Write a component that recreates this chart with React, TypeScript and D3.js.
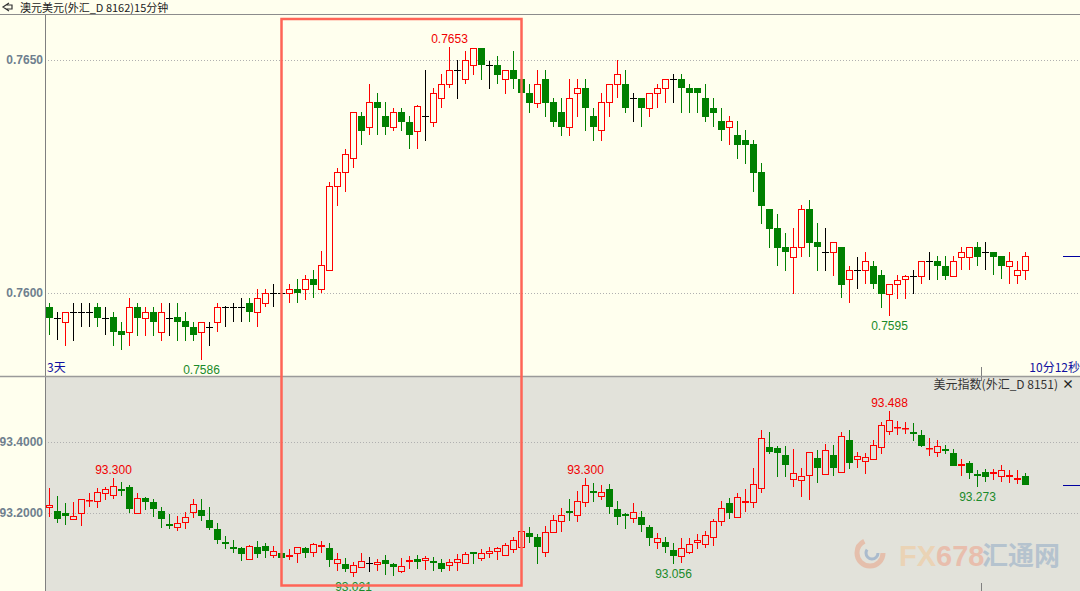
import * as d3 from 'd3';

// AUD/USD 15 min candles: [open, high, low, close]
const audUsd: number[][] = [
  [0.75971, 0.75979, 0.7591, 0.75947], [0.75947, 0.7596, 0.75899, 0.75947], [0.75938, 0.75959, 0.75886, 0.75959],
  [0.75959, 0.75979, 0.75898, 0.75959], [0.75959, 0.75978, 0.75928, 0.75959], [0.75959, 0.75978, 0.75928, 0.75959],
  [0.7597, 0.75978, 0.75928, 0.75947], [0.75947, 0.75969, 0.75909, 0.75947], [0.75949, 0.75959, 0.75886, 0.75917],
  [0.75918, 0.75938, 0.75878, 0.75909], [0.75917, 0.75989, 0.75886, 0.75969], [0.75969, 0.75978, 0.75908, 0.75947],
  [0.75947, 0.75969, 0.75908, 0.75959], [0.75959, 0.75969, 0.75908, 0.75938], [0.75917, 0.75978, 0.75898, 0.75959],
  [0.75947, 0.75978, 0.75908, 0.75947], [0.75949, 0.75978, 0.75898, 0.75938], [0.7594, 0.75959, 0.75898, 0.75928],
  [0.75928, 0.75938, 0.75898, 0.75909], [0.75917, 0.75938, 0.75856, 0.75938], [0.75928, 0.75938, 0.75886, 0.75928],
  [0.75938, 0.75978, 0.75917, 0.75969], [0.75969, 0.75972, 0.75928, 0.75969], [0.75969, 0.75979, 0.75938, 0.75969],
  [0.75969, 0.75989, 0.75938, 0.75969], [0.75978, 0.75989, 0.75938, 0.75959], [0.75959, 0.76009, 0.75928, 0.75989],
  [0.75978, 0.76009, 0.75969, 0.75999], [0.75999, 0.76019, 0.75969, 0.75999], [0.75999, 0.76015, 0.75985, 0.75999],
  [0.75999, 0.76019, 0.75978, 0.76008], [0.76008, 0.76029, 0.75978, 0.75999], [0.76008, 0.76039, 0.75985, 0.76029],
  [0.76029, 0.76049, 0.75989, 0.76017], [0.76008, 0.7609, 0.75999, 0.7606], [0.76049, 0.76238, 0.76049, 0.7623],
  [0.7623, 0.76268, 0.76187, 0.76259], [0.76259, 0.76308, 0.76217, 0.76298], [0.76289, 0.76388, 0.76268, 0.76388],
  [0.76379, 0.76388, 0.76318, 0.76348], [0.76357, 0.76449, 0.76338, 0.76409], [0.76409, 0.76429, 0.76338, 0.76398],
  [0.76379, 0.76409, 0.76338, 0.76357], [0.76357, 0.76398, 0.76348, 0.76388], [0.76388, 0.76398, 0.76348, 0.76368],
  [0.76368, 0.76379, 0.76308, 0.76338], [0.76348, 0.76403, 0.76308, 0.76401], [0.76379, 0.76479, 0.76327, 0.76379],
  [0.76368, 0.76439, 0.76357, 0.76429], [0.76418, 0.76469, 0.76398, 0.76448], [0.76448, 0.76527, 0.76439, 0.76479],
  [0.76479, 0.765, 0.76416, 0.76479], [0.76459, 0.76519, 0.76448, 0.76499], [0.76489, 0.76526, 0.76468, 0.76526],
  [0.76526, 0.76526, 0.76457, 0.76489], [0.76489, 0.76498, 0.76438, 0.76489], [0.76489, 0.76509, 0.76448, 0.76468],
  [0.76459, 0.76478, 0.76427, 0.76478], [0.76478, 0.76519, 0.76438, 0.76459], [0.76459, 0.7647, 0.76416, 0.76429],
  [0.76429, 0.76449, 0.76387, 0.76408], [0.76408, 0.76479, 0.76398, 0.76448], [0.76459, 0.76479, 0.76378, 0.76408],
  [0.76409, 0.76418, 0.76357, 0.76368], [0.76388, 0.76418, 0.76337, 0.76357], [0.76357, 0.76459, 0.76337, 0.76418],
  [0.76429, 0.76459, 0.76378, 0.76439], [0.76439, 0.76459, 0.76348, 0.76398], [0.7638, 0.76398, 0.76327, 0.76357],
  [0.76349, 0.7643, 0.76327, 0.76409], [0.76409, 0.76448, 0.76378, 0.76448], [0.76448, 0.765, 0.76418, 0.76469],
  [0.76448, 0.76479, 0.76387, 0.76398], [0.76418, 0.76429, 0.76368, 0.76418], [0.76418, 0.76418, 0.76357, 0.76398],
  [0.76398, 0.76429, 0.76378, 0.76429], [0.76429, 0.76449, 0.76398, 0.76439], [0.76439, 0.76459, 0.76408, 0.76459],
  [0.76459, 0.76469, 0.76408, 0.76459], [0.76459, 0.76469, 0.76387, 0.76439], [0.76439, 0.76449, 0.76387, 0.76429],
  [0.76439, 0.76439, 0.76387, 0.76429], [0.76418, 0.76449, 0.76368, 0.76378], [0.76398, 0.76418, 0.76357, 0.76387],
  [0.76369, 0.76398, 0.76327, 0.76349], [0.76357, 0.7638, 0.76318, 0.76369], [0.76339, 0.76369, 0.76288, 0.76318],
  [0.76328, 0.76349, 0.76277, 0.76318], [0.7632, 0.76328, 0.76217, 0.76258], [0.7626, 0.76278, 0.76148, 0.76187],
  [0.7618, 0.7618, 0.76097, 0.76137], [0.76139, 0.7617, 0.76058, 0.76097], [0.76099, 0.76129, 0.76048, 0.76088],
  [0.76078, 0.76139, 0.75998, 0.76098], [0.76098, 0.76189, 0.76078, 0.7618], [0.7618, 0.762, 0.76078, 0.76108],
  [0.76109, 0.7615, 0.76048, 0.76098], [0.76089, 0.76139, 0.76048, 0.76089], [0.76089, 0.76109, 0.76037, 0.76109],
  [0.76098, 0.76098, 0.75989, 0.76017], [0.76029, 0.76059, 0.75978, 0.76049], [0.76049, 0.76078, 0.76008, 0.76049],
  [0.76049, 0.76089, 0.76019, 0.76069], [0.76059, 0.76069, 0.76008, 0.76019], [0.76039, 0.76049, 0.75968, 0.75998],
  [0.75998, 0.76019, 0.75951, 0.76019], [0.76019, 0.76039, 0.75988, 0.76028], [0.76029, 0.76039, 0.75988, 0.76037],
  [0.76037, 0.76049, 0.75998, 0.76037], [0.76037, 0.76069, 0.76019, 0.76069], [0.76069, 0.76089, 0.76028, 0.76069],
  [0.76069, 0.76079, 0.76028, 0.76059], [0.76059, 0.76079, 0.76028, 0.76037], [0.76037, 0.76079, 0.76037, 0.76069],
  [0.76078, 0.76099, 0.76049, 0.76089], [0.76078, 0.76098, 0.76049, 0.76098], [0.76098, 0.76109, 0.76059, 0.76078],
  [0.76089, 0.76109, 0.76049, 0.76089], [0.76089, 0.76089, 0.76039, 0.76078], [0.76079, 0.76079, 0.76029, 0.76059],
  [0.76059, 0.76089, 0.76019, 0.76069], [0.76039, 0.76069, 0.76019, 0.76049], [0.76049, 0.76089, 0.76028, 0.76079],
];

// US dollar index candles: [open, high, low, close]
const usdIndex: number[][] = [
  [93.216, 93.271, 93.19, 93.223], [93.206, 93.248, 93.173, 93.182], [93.199, 93.227, 93.166, 93.192],
  [93.182, 93.232, 93.182, 93.192], [93.201, 93.239, 93.163, 93.239], [93.236, 93.256, 93.218, 93.238],
  [93.234, 93.27, 93.213, 93.258], [93.256, 93.272, 93.237, 93.267], [93.25, 93.3, 93.239, 93.276],
  [93.268, 93.286, 93.248, 93.264], [93.273, 93.279, 93.201, 93.21], [93.201, 93.256, 93.201, 93.241],
  [93.242, 93.244, 93.208, 93.232], [93.23, 93.239, 93.19, 93.212], [93.206, 93.216, 93.159, 93.182],
  [93.169, 93.197, 93.154, 93.164], [93.161, 93.192, 93.15, 93.173], [93.174, 93.204, 93.154, 93.188],
  [93.202, 93.239, 93.185, 93.225], [93.208, 93.24, 93.178, 93.192], [93.18, 93.218, 93.152, 93.159],
  [93.155, 93.171, 93.112, 93.125], [93.118, 93.135, 93.098, 93.115], [93.104, 93.124, 93.086, 93.101],
  [93.101, 93.105, 93.065, 93.085], [93.07, 93.11, 93.068, 93.107], [93.104, 93.121, 93.074, 93.085],
  [93.107, 93.115, 93.072, 93.094], [93.081, 93.107, 93.074, 93.092], [93.086, 93.086, 93.072, 93.072],
  [93.078, 93.098, 93.068, 93.081], [93.086, 93.103, 93.06, 93.103], [93.101, 93.105, 93.072, 93.086],
  [93.089, 93.116, 93.077, 93.112], [93.106, 93.121, 93.086, 93.109], [93.101, 93.115, 93.047, 93.068],
  [93.058, 93.086, 93.037, 93.07], [93.055, 93.072, 93.033, 93.043], [93.033, 93.063, 93.021, 93.053],
  [93.049, 93.086, 93.044, 93.064], [93.06, 93.077, 93.035, 93.06], [93.055, 93.07, 93.037, 93.061],
  [93.068, 93.082, 93.025, 93.056], [93.056, 93.06, 93.022, 93.049], [93.037, 93.072, 93.032, 93.051],
  [93.064, 93.079, 93.043, 93.067], [93.07, 93.082, 93.043, 93.063], [93.067, 93.079, 93.039, 93.073],
  [93.064, 93.077, 93.037, 93.062], [93.058, 93.07, 93.035, 93.043], [93.054, 93.07, 93.037, 93.061],
  [93.063, 93.084, 93.037, 93.07], [93.058, 93.091, 93.058, 93.084], [93.089, 93.089, 93.056, 93.087],
  [93.072, 93.098, 93.066, 93.086], [93.086, 93.103, 93.074, 93.092], [93.094, 93.105, 93.068, 93.101],
  [93.081, 93.115, 93.081, 93.109], [93.098, 93.132, 93.088, 93.124], [93.105, 93.148, 93.105, 93.148],
  [93.143, 93.16, 93.115, 93.132], [93.132, 93.141, 93.056, 93.105], [93.091, 93.163, 93.077, 93.146],
  [93.146, 93.194, 93.146, 93.179], [93.177, 93.213, 93.146, 93.194], [93.205, 93.239, 93.178, 93.199],
  [93.194, 93.262, 93.175, 93.233], [93.23, 93.3, 93.218, 93.278], [93.261, 93.284, 93.23, 93.256],
  [93.247, 93.278, 93.236, 93.258], [93.267, 93.282, 93.197, 93.216], [93.21, 93.234, 93.166, 93.19],
  [93.196, 93.199, 93.154, 93.194], [93.185, 93.227, 93.171, 93.202], [93.188, 93.205, 93.147, 93.165],
  [93.16, 93.166, 93.108, 93.129], [93.117, 93.143, 93.098, 93.129], [93.117, 93.133, 93.086, 93.103],
  [93.095, 93.115, 93.056, 93.078], [93.078, 93.13, 93.058, 93.101], [93.089, 93.129, 93.084, 93.112],
  [93.117, 93.14, 93.098, 93.123], [93.112, 93.148, 93.101, 93.137], [93.132, 93.182, 93.108, 93.177],
  [93.177, 93.234, 93.163, 93.213], [93.227, 93.241, 93.183, 93.201], [93.188, 93.256, 93.188, 93.244],
  [93.231, 93.267, 93.204, 93.233], [93.23, 93.326, 93.213, 93.281], [93.27, 93.434, 93.257, 93.41],
  [93.387, 93.429, 93.366, 93.373], [93.383, 93.389, 93.301, 93.368], [93.363, 93.389, 93.301, 93.336],
  [93.295, 93.38, 93.274, 93.312], [93.292, 93.326, 93.244, 93.304], [93.306, 93.371, 93.237, 93.371],
  [93.354, 93.377, 93.284, 93.328], [93.309, 93.394, 93.309, 93.377], [93.363, 93.392, 93.304, 93.328],
  [93.315, 93.429, 93.315, 93.416], [93.405, 93.434, 93.325, 93.342], [93.351, 93.373, 93.326, 93.36],
  [93.346, 93.368, 93.309, 93.357], [93.351, 93.406, 93.351, 93.391], [93.385, 93.457, 93.365, 93.448],
  [93.431, 93.488, 93.419, 93.461], [93.441, 93.46, 93.419, 93.443], [93.439, 93.455, 93.423, 93.44],
  [93.428, 93.454, 93.404, 93.426], [93.419, 93.434, 93.385, 93.389], [93.382, 93.41, 93.361, 93.384],
  [93.371, 93.406, 93.359, 93.388], [93.379, 93.391, 93.365, 93.377], [93.368, 93.379, 93.333, 93.333],
  [93.335, 93.351, 93.305, 93.337], [93.34, 93.347, 93.297, 93.312], [93.309, 93.321, 93.273, 93.307],
  [93.315, 93.325, 93.286, 93.301], [93.313, 93.323, 93.293, 93.316], [93.304, 93.335, 93.288, 93.321],
  [93.305, 93.321, 93.284, 93.307], [93.296, 93.321, 93.281, 93.298], [93.304, 93.312, 93.278, 93.278],
];

const audTicks = [0.765, 0.76];
const usdTicks = [93.4, 93.2];

// high / low markers written on the chart
const audMarks = [{ i: 50, kind: 'high' }, { i: 19, kind: 'low' }, { i: 105, kind: 'low' }];
const usdMarks = [
  { i: 8, kind: 'high' }, { i: 67, kind: 'high' }, { i: 105, kind: 'high' },
  { i: 38, kind: 'low' }, { i: 78, kind: 'low' }, { i: 116, kind: 'low' },
];

const highlight = [29, 59]; // candles inside the red box

const W = 1080;
const H = 591;
const AXIS_X = 45;
const UP = '#ff0000';
const DOWN = '#008000';
const TOP_BG = '#ffffee';
const BOT_BG = '#e2e2da';

const idx = d3.range(audUsd.length);
const xBand = d3.scaleBand<number>().domain(idx).range([45.5, 45.5 + 8 * idx.length]);
const cx = (i: number) => (xBand(i) as number) + 4;

const yTop = d3.scaleLinear().domain([0.76, 0.765]).range([293, 60]);
const yBot = d3.scaleLinear().domain([93.2, 93.4]).range([513, 442]);

const crisp = (v: number) => Math.round(v) + 0.5;

function Candles({ data, y, bg }: { data: number[][]; y: d3.ScaleLinear<number, number>; bg: string }) {
  return (
    <g>
      {data.map(([o, h, l, c], i) => {
        const x = cx(i);
        const color = c > o ? UP : c < o ? DOWN : '#000';
        const yo = Math.round(y(o));
        const yc = Math.round(y(c));
        return (
          <g key={i}>
            <line x1={x} x2={x} y1={Math.round(y(h))} y2={Math.round(y(l))} stroke={color} strokeWidth={1} />
            {c > o && (
              <rect x={x - 3} y={yc + 0.5} width={6} height={Math.max(yo - yc, 0.5)} fill={bg} stroke={UP} strokeWidth={1} />
            )}
            {c < o && <rect x={x - 3.5} y={yo} width={7} height={Math.max(yc - yo, 2)} fill={DOWN} />}
            {c === o && <line x1={x - 3.5} x2={x + 3.5} y1={yo + 0.5} y2={yo + 0.5} stroke="#000" strokeWidth={1} />}
          </g>
        );
      })}
    </g>
  );
}

function Marks({ data, y, marks, digits }: { data: number[][]; y: d3.ScaleLinear<number, number>; marks: { i: number; kind: string }[]; digits: number }) {
  return (
    <g fontFamily="'Liberation Sans', Arial, sans-serif" fontSize={12} textAnchor="middle">
      {marks.map((m, k) => {
        const v = m.kind === 'high' ? data[m.i][1] : data[m.i][2];
        const yy = m.kind === 'high' ? y(v) - 4 : y(v) + 14;
        return (
          <text key={k} x={cx(m.i)} y={yy} fill={m.kind === 'high' ? '#f00000' : '#1a8a2a'}>
            {v.toFixed(digits)}
          </text>
        );
      })}
    </g>
  );
}

export default function App() {
  const lastAud = audUsd[audUsd.length - 1][3];
  const lastUsd = usdIndex[usdIndex.length - 1][3];
  const boxX1 = cx(highlight[0]);
  const boxX2 = cx(highlight[1]);

  return (
    <div style={{ position: 'fixed', left: 0, top: 0 }}>
      <svg width={W} height={H} style={{ display: 'block' }}>
        {/* backgrounds */}
        <rect x={0} y={0} width={W} height={H} fill={TOP_BG} />
        <rect x={AXIS_X} y={377} width={W - AXIS_X} height={H - 377} fill={BOT_BG} />

        {/* title */}
        <path d="M9,3 L3,7 L9,11 M6,5 L12,5 L12,9 L6,9" fill="none" stroke="#333" strokeWidth={1.2} />
        <text x={20} y={11.5} fontFamily="'Noto Sans CJK SC', sans-serif" fontSize={11} fill="#222">
          澳元美元(外汇_D 8162)15分钟
        </text>
        <line x1={0} x2={W} y1={14.5} y2={14.5} stroke="#8c8c8c" />

        {/* grid + axis labels */}
        <g fontFamily="'Liberation Sans', Arial, sans-serif" fontSize={12} fontWeight="bold" fill="#6f7f8e" textAnchor="end">
          {audTicks.map((t) => (
            <g key={t}>
              <line x1={AXIS_X} x2={W} y1={crisp(yTop(t))} y2={crisp(yTop(t))} stroke="#b0b0b0" strokeDasharray="1,2" />
              <text x={43} y={yTop(t) + 4}>{t.toFixed(4)}</text>
            </g>
          ))}
          {usdTicks.map((t) => (
            <g key={t}>
              <line x1={AXIS_X} x2={W} y1={crisp(yBot(t))} y2={crisp(yBot(t))} stroke="#b0b0b0" strokeDasharray="1,2" />
              <text x={43} y={yBot(t) + 4}>{t.toFixed(4)}</text>
            </g>
          ))}
        </g>

        <Candles data={audUsd} y={yTop} bg={TOP_BG} />
        <Candles data={usdIndex} y={yBot} bg={BOT_BG} />
        <Marks data={audUsd} y={yTop} marks={audMarks} digits={4} />
        <Marks data={usdIndex} y={yBot} marks={usdMarks} digits={3} />

        {/* last price markers */}
        <line x1={1063} x2={W} y1={crisp(yTop(lastAud))} y2={crisp(yTop(lastAud))} stroke="#0000a0" />
        <line x1={1063} x2={W} y1={crisp(yBot(lastUsd))} y2={crisp(yBot(lastUsd))} stroke="#0000a0" />

        {/* panel frame */}
        <line x1={AXIS_X + 0.5} x2={AXIS_X + 0.5} y1={15} y2={H} stroke="#808080" />
        <line x1={0} x2={W} y1={376.5} y2={376.5} stroke="#9a9a9a" strokeWidth={1.5} />
        <line x1={981.5} x2={981.5} y1={367} y2={376} stroke="#808080" />
        <line x1={981.5} x2={981.5} y1={377} y2={381} stroke="#808080" />
        <line x1={981.5} x2={981.5} y1={583} y2={H} stroke="#808080" />

        <g fontFamily="'Noto Sans CJK SC', sans-serif" fontSize={12}>
          <text x={47} y={372} fill="#1010a0">3天</text>
          <text x={W} y={372} fill="#1010a0" textAnchor="end">10分12秒</text>
          <text x={1058} y={389} fill="#333" textAnchor="end">美元指数(外汇_D 8151)</text>
          <text x={1068} y={389} fill="#222" fontWeight="bold" textAnchor="middle">×</text>
        </g>

        {/* watermark */}
        <g opacity={0.55}>
          <circle cx={870} cy={553} r={13} fill="none" stroke="#e8a487" strokeWidth={5} strokeDasharray="55,27" />
          <circle cx={872} cy={553} r={6} fill="none" stroke="#7d9cc4" strokeWidth={3} strokeDasharray="22,16" />
          <text x={899} y={566} fontFamily="'Liberation Sans', Arial, sans-serif" fontWeight="bold" fontSize={29}>
            <tspan fill="#f2c797">FX</tspan>
            <tspan fill="#eea28a">678</tspan>
          </text>
          <text x={982} y={565} fontFamily="'Noto Sans CJK SC', sans-serif" fontWeight="bold" fontSize={26} fill="#92aac6">
            汇通网
          </text>
        </g>

        {/* highlight box */}
        <rect x={boxX1} y={19} width={boxX2 - boxX1} height={566.5} fill="none" stroke="#ff6456" strokeWidth={2.5} />
      </svg>
    </div>
  );
}
